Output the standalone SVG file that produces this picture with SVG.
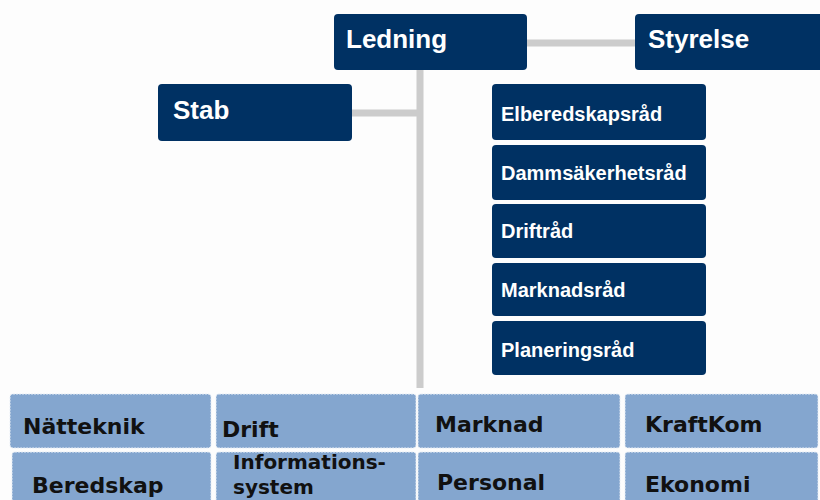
<svg xmlns="http://www.w3.org/2000/svg" width="820" height="500" viewBox="0 0 820 500">
  <style>
    .lead { fill: #003163; }
    .lead-text { fill: #ffffff; font-family: "Liberation Sans", Arial, sans-serif; font-weight: bold; }
    .big { font-size: 26px; }
    .small { font-size: 20px; }
    .unit { fill: #84a6cf; stroke: #e8eef6; stroke-width: 1; stroke-dasharray: 2 1; }
    .unit-text { fill: #111111; font-family: "DejaVu Sans", Verdana, sans-serif; font-weight: bold; font-size: 22px; }
    .unit-text-sm { font-size: 20px; }
    .conn { stroke: #cccccc; stroke-width: 7; fill: none; }
  </style>

  <rect width="820" height="500" fill="#fdfdfd"/>

  <!-- connectors -->
  <g id="connectors">
    <line class="conn" x1="527" y1="43" x2="636" y2="43"/>
    <line class="conn" x1="420" y1="70" x2="420" y2="388"/>
    <line class="conn" x1="352" y1="113" x2="420" y2="113"/>
  </g>

  <!-- management level -->
  <g id="ledning">
    <rect class="lead" x="334" y="14" width="193" height="56" rx="4"/>
    <text class="lead-text big" x="346" y="48">Ledning</text>
  </g>
  <g id="styrelse">
    <rect class="lead" x="635" y="14" width="190" height="56" rx="4"/>
    <text class="lead-text big" x="648" y="48">Styrelse</text>
  </g>
  <g id="stab">
    <rect class="lead" x="158" y="84" width="194" height="57" rx="4"/>
    <text class="lead-text big" x="173" y="119">Stab</text>
  </g>

  <!-- councils -->
  <g id="elberedskapsrad">
    <rect class="lead" x="492" y="84" width="214" height="56" rx="4"/>
    <text class="lead-text small" x="501" y="121">Elberedskapsråd</text>
  </g>
  <g id="dammsakerhetsrad">
    <rect class="lead" x="492" y="145" width="214" height="55" rx="4"/>
    <text class="lead-text small" x="501" y="180">Dammsäkerhetsråd</text>
  </g>
  <g id="driftrad">
    <rect class="lead" x="492" y="204" width="214" height="54" rx="4"/>
    <text class="lead-text small" x="501" y="238">Driftråd</text>
  </g>
  <g id="marknadsrad">
    <rect class="lead" x="492" y="263" width="214" height="53" rx="4"/>
    <text class="lead-text small" x="501" y="297">Marknadsråd</text>
  </g>
  <g id="planeringsrad">
    <rect class="lead" x="492" y="321" width="214" height="54" rx="4"/>
    <text class="lead-text small" x="501" y="357">Planeringsråd</text>
  </g>

  <!-- business units -->
  <g id="natteknik">
    <rect class="unit" x="10" y="394" width="201" height="54" rx="3"/>
    <text class="unit-text" x="23" y="434">Nätteknik</text>
  </g>
  <g id="drift">
    <rect class="unit" x="216" y="394" width="200" height="54" rx="3"/>
    <text class="unit-text" x="222" y="437">Drift</text>
  </g>
  <g id="marknad">
    <rect class="unit" x="418" y="394" width="202" height="54" rx="3"/>
    <text class="unit-text" x="435" y="432">Marknad</text>
  </g>
  <g id="kraftkom">
    <rect class="unit" x="625" y="394" width="193" height="54" rx="3"/>
    <text class="unit-text" x="645" y="432">KraftKom</text>
  </g>
  <g id="beredskap">
    <rect class="unit" x="12" y="452" width="199" height="54" rx="3"/>
    <text class="unit-text" x="32" y="493">Beredskap</text>
  </g>
  <g id="informationssystem">
    <rect class="unit" x="216" y="452" width="200" height="54" rx="3"/>
    <text class="unit-text unit-text-sm" x="233" y="469">Informations-</text>
    <text class="unit-text unit-text-sm" x="233" y="494">system</text>
  </g>
  <g id="personal">
    <rect class="unit" x="418" y="452" width="202" height="54" rx="3"/>
    <text class="unit-text" x="437" y="490">Personal</text>
  </g>
  <g id="ekonomi">
    <rect class="unit" x="625" y="452" width="193" height="54" rx="3"/>
    <text class="unit-text" x="645" y="492">Ekonomi</text>
  </g>
</svg>
